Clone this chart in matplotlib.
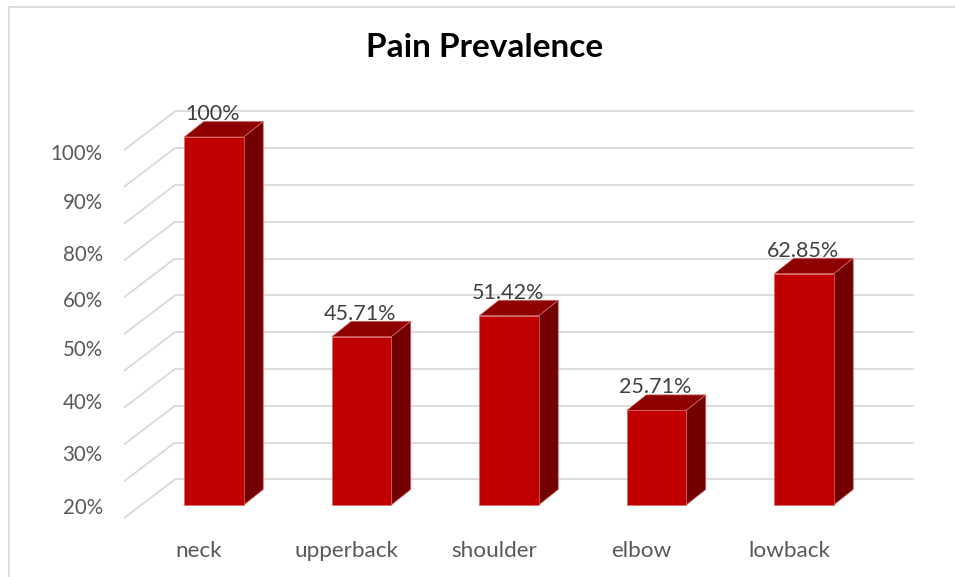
import matplotlib
matplotlib.use("Agg")
import matplotlib.pyplot as plt
from matplotlib.patches import Polygon
from matplotlib.lines import Line2D

# ---- data ----
categories = ["neck", "upperback", "shoulder", "elbow", "lowback"]
prevalence = [100.0, 45.71, 51.42, 25.71, 62.85]
value_labels = ["100%", "45.71%", "51.42%", "25.71%", "62.85%"]
tick_labels = ["100%", "90%", "80%", "60%", "50%", "40%", "30%", "20%"]
grid_values = [0, 10, 20, 30, 40, 50, 60, 70, 80, 90, 100]
title = "Pain Prevalence"

# ---- layout (pixels of the 955x577 canvas) ----
W, H = 955, 577
STEP_PX = 147.5      # distance between bar centres
UNIT_PX = 3.68       # pixels per percent
X0_PX = 214.0        # centre of the first bar's front face
Y0_PX = 505.0        # baseline of the bars (from top)
tick_baselines_px = [160.5, 209.0, 260.7, 306.7, 355.7, 409.0, 461.3, 514.0]

plt.rcParams["font.family"] = ["Lato", "DejaVu Sans"]

fig = plt.figure(figsize=(W / 100, H / 100), dpi=100)
fig.patch.set_facecolor("white")
ax = fig.add_axes([0, 0, 1, 1])
ax.set_xlim(-X0_PX / STEP_PX, (W - X0_PX) / STEP_PX)
ax.set_ylim((Y0_PX - H) / UNIT_PX, Y0_PX / UNIT_PX)
ax.axis("off")


def px_x(dx):
    return dx / STEP_PX


def px_y(dy):
    return dy / UNIT_PX


# 3-D geometry in data units
bar_w = px_x(59.5)
depth_dx, depth_dy = px_x(19.5), px_y(15.5)
wall_dy = px_y(25.7)
wall_left = px_x(175 - X0_PX)
wall_right = px_x(914 - X0_PX)
side_left = px_x(124 - X0_PX)
side_drop = px_y(38.8)

grid_kw = dict(color="#d9d9d9", lw=1.3, zorder=1, solid_capstyle="butt")
for g in grid_values:
    yb = g + wall_dy
    ax.plot([wall_left, wall_right], [yb, yb], **grid_kw)
    ax.plot([side_left, wall_left], [yb - side_drop, yb], **grid_kw)

front_c, top_c, side_c = "#C00000", "#8E0000", "#730000"
edge_kw = dict(edgecolor="#d86a6a", linewidth=0.5)
xs = list(range(len(categories)))
ax.bar(xs, prevalence, width=bar_w, color=front_c, zorder=4, **edge_kw)
for i, v in zip(xs, prevalence):
    l, r = i - bar_w / 2, i + bar_w / 2
    top = Polygon([(l, v), (r, v), (r + depth_dx, v + depth_dy),
                   (l + depth_dx, v + depth_dy)], closed=True,
                  facecolor=top_c, zorder=3, **edge_kw)
    side = Polygon([(r, 0), (r + depth_dx, depth_dy),
                    (r + depth_dx, v + depth_dy), (r, v)], closed=True,
                   facecolor=side_c, zorder=3, **edge_kw)
    ax.add_patch(top)
    ax.add_patch(side)

# value labels
for i, v, lab in zip(xs, prevalence, value_labels):
    ax.text(i - px_x(1.5), v + px_y(17.0), lab, ha="center", va="baseline",
            fontsize=15.5, color="#404040", zorder=6)

# category labels
for i, cat in zip(xs, categories):
    ax.text(i - px_x(15.0), px_y(Y0_PX - 556.7), cat, ha="center",
            va="baseline", fontsize=16.2, color="#595959")

# value-axis labels
for lab, yb in zip(tick_labels, tick_baselines_px):
    ax.text(px_x(102.7 - X0_PX), px_y(Y0_PX - yb), lab, ha="right",
            va="baseline", fontsize=14.8, color="#595959")

# title
fig.text(484.4 / W, 1 - 57.3 / H, title, ha="center", va="baseline",
         fontsize=24, fontweight="bold", color="black")

# chart-area border
border_kw = dict(color="#d9d9d9", lw=1.3, transform=fig.transFigure)
fig.add_artist(Line2D([8.5 / W, 8.5 / W], [0, 1 - 7 / H], **border_kw))
fig.add_artist(Line2D([8.5 / W, 1], [1 - 7 / H, 1 - 7 / H], **border_kw))

fig.savefig("out.png", dpi=100, facecolor="white")
